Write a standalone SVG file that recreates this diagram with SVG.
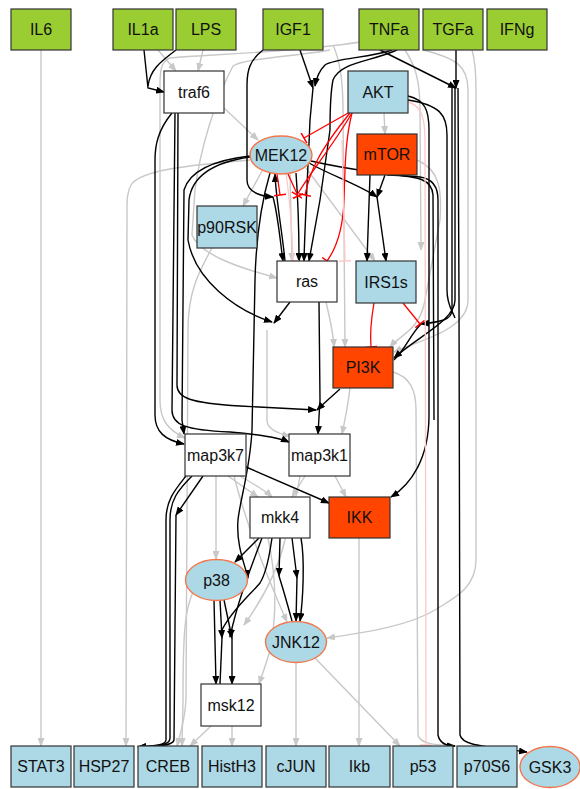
<svg xmlns="http://www.w3.org/2000/svg" width="580" height="789" viewBox="0 0 580 789">
<style>
.n rect,.n ellipse{stroke:#333;stroke-width:1.2}
.st{fill:#9ACD32}.bl{fill:#ADD8E6}.or{fill:#FF4500}.wh{fill:#fff}
.n ellipse{stroke:#F4764A;stroke-width:1.4}
.n text{font-family:"Liberation Sans",Arial,sans-serif;font-size:16px;text-anchor:middle;fill:#111}
.k{fill:none;stroke:#000;stroke-width:1.4;marker-end:url(#ak)}
.kj{fill:none;stroke:#000;stroke-width:1.4}
.g{fill:none;stroke:#C8C8C8;stroke-width:1.4;marker-end:url(#ag)}
.r{fill:none;stroke:#F00;stroke-width:1.3;marker-end:url(#tr)}
.p{fill:none;stroke:#FFC8C8;stroke-width:1.3;marker-end:url(#tp)}
</style>
<defs>
<marker id="ak" markerUnits="userSpaceOnUse" markerWidth="9" markerHeight="7" refX="8" refY="3.5" orient="auto"><path d="M0,0 L9,3.5 L0,7 z" fill="#000"/></marker>
<marker id="ag" markerUnits="userSpaceOnUse" markerWidth="9" markerHeight="7" refX="8" refY="3.5" orient="auto"><path d="M0,0 L9,3.5 L0,7 z" fill="#C8C8C8"/></marker>
<marker id="tr" markerUnits="userSpaceOnUse" markerWidth="3" markerHeight="12" refX="1.5" refY="6" orient="auto"><path d="M1.5,0 L1.5,12" stroke="#F00" stroke-width="1.5"/></marker>
<marker id="tp" markerUnits="userSpaceOnUse" markerWidth="3" markerHeight="12" refX="1.5" refY="6" orient="auto"><path d="M1.5,0 L1.5,12" stroke="#FFC8C8" stroke-width="1.5"/></marker>
</defs>
<rect width="580" height="789" fill="#fff"/>
<g id="edges">
<path class="g" d="M41,50 L41,746"/>
<path class="g" d="M158,50 L176,71"/>
<path class="g" d="M203,50 L198,71"/>
<path class="g" d="M224,108 L258,140"/>
<path class="g" d="M384,113 L385,134"/>
<path class="g" d="M262,171 L243,206"/>
<path class="g" d="M212,248 C200,270 188,290 188,330 L186,700 C185,720 180,735 177,746"/>
<path class="g" d="M250,160 C190,165 140,170 131,185 C127,192 127,200 127,212 L126,746"/>
<path class="g" d="M360,42 C300,52 200,55 170,58 C159,62 160,75 160,95 L160,400 C160,420 168,430 185,438"/>
<path class="g" d="M330,50 C300,56 245,58 233,66 C215,100 200,150 195,190 L192,235 C200,255 240,268 277,278"/>
<path class="g" d="M333,45 C340,60 343,80 343,110 L345,347"/>
<path class="g" d="M306,168 L375,261"/>
<path class="g" d="M417,160 C440,170 442,190 440,220 L425,300 C420,330 400,335 390,347"/>
<path class="g" d="M423,50 C455,58 468,65 468,90 L468,300 C468,330 420,340 394,352"/>
<path class="g" d="M405,50 C415,65 420,80 420,110 L421,250"/>
<path class="g" d="M472,50 C475,60 476,70 476,90 L476,560 C476,590 450,600 435,610 C410,625 370,632 327,638"/>
<path class="g" d="M393,372 C410,377 416,390 416,410 L418,735 C420,745 440,745 455,746"/>
<path class="g" d="M326,302 C330,320 333,330 334,347"/>
<path class="g" d="M350,388 C348,405 345,420 342,434"/>
<path class="g" d="M305,476 L292,497"/>
<path class="g" d="M335,476 L346,497"/>
<path class="g" d="M228,476 L258,497"/>
<path class="g" d="M240,476 C255,485 265,490 272,497"/>
<path class="g" d="M216,476 L216,559"/>
<path class="g" d="M234,476 C245,520 262,565 287,622"/>
<path class="g" d="M359,538 L359,746"/>
<path class="g" d="M296,663 L296,746"/>
<path class="g" d="M315,658 L400,746"/>
<path class="g" d="M232,726 L232,746"/>
<path class="g" d="M211,726 L190,746"/>
<path class="g" d="M193,592 C185,610 183,630 183,700 L182,746"/>
<path class="g" d="M268,538 C277,580 276,620 270,650 C266,665 262,675 259,684"/>
<path class="g" d="M290,173 L292,261"/>
<path class="g" d="M300,476 C296,500 290,520 285,540 C278,570 262,600 244,625"/>
<path class="g" d="M267,330 L267,420 C267,430 280,434 290,436"/>
<path class="k" d="M144,50 L148,88 L164,92"/>
<path class="kj" d="M176,50 C160,62 150,70 148,86"/>
<path class="k" d="M172,113 C158,130 155,145 155,160 L155,415 C155,432 165,440 184,444"/>
<path class="k" d="M250,156 C215,160 190,170 184,190 L182,420 L184,434"/>
<path class="k" d="M175,113 L172,410 C172,425 185,430 230,432 C265,435 280,438 289,442"/>
<path class="k" d="M178,113 L177,385 C177,398 190,403 240,406 L316,410"/>
<path class="k" d="M186,476 C175,490 166,500 166,520 L166,740 C166,745 155,746 138,747"/>
<path class="k" d="M192,476 C178,490 170,500 170,520 L170,738 C170,745 160,746 138,747"/>
<path class="k" d="M203,476 L176,515"/>
<path class="kj" d="M176,515 L174,740 C173,745 160,747 138,748"/>
<path class="k" d="M263,50 C250,60 247,70 247,85 L247,180 C247,192 260,196 273,197"/>
<path class="k" d="M273,197 C278,215 280,240 283,261"/>
<path class="k" d="M285,261 C282,230 276,200 275,174"/>
<path class="k" d="M300,50 L313,88"/>
<path class="k" d="M392,50 C370,58 335,58 325,65 C318,72 316,80 315,86"/>
<path class="k" d="M313,88 L310,120 C308,170 305,220 304,261"/>
<path class="k" d="M397,50 C370,62 340,62 333,80 C330,95 330,110 330,130 L320,200 L309,261"/>
<path class="k" d="M296,173 C298,200 299,230 299,261"/>
<path class="k" d="M309,163 C330,175 360,185 377,197"/>
<path class="k" d="M385,175 L377,197"/>
<path class="k" d="M377,197 L386,261"/>
<path class="k" d="M370,175 L367,261"/>
<path class="k" d="M311,161 C350,170 400,176 420,177 C435,179 438,190 438,200 L438,735 C440,745 450,746 455,746"/>
<path class="kj" d="M387,175 C420,176 432,180 433,195 L434,420"/>
<path class="k" d="M408,96 C425,100 429,110 429,130 L429,415 C429,460 410,485 391,497"/>
<path class="kj" d="M408,100 C440,105 447,115 447,135 L447,290 C447,305 452,310 455,318"/>
<path class="k" d="M380,50 L456,88"/>
<path class="k" d="M456,50 L456,88"/>
<path class="k" d="M458,88 L459,300 L460,735 C462,745 480,746 527,752"/>
<path class="k" d="M455,88 L455,300 C455,320 420,335 394,358"/>
<path class="k" d="M452,88 L452,310 C452,320 440,322 421,324"/>
<path class="kj" d="M421,324 C410,335 405,350 394,360"/>
<path class="k" d="M340,389 C330,398 322,405 317,410"/>
<path class="k" d="M319,302 L320,400 L318,434"/>
<path class="k" d="M250,157 C215,162 192,175 189,200 L188,240 C195,280 235,310 272,322"/>
<path class="k" d="M290,302 L274,323"/>
<path class="k" d="M246,467 L329,503"/>
<path class="k" d="M259,538 L235,562"/>
<path class="k" d="M280,538 L279,576"/>
<path class="kj" d="M279,576 C285,595 289,610 292,621"/>
<path class="k" d="M292,538 L297,578"/>
<path class="k" d="M297,578 L296,621"/>
<path class="k" d="M301,538 C305,560 303,600 300,621"/>
<path class="k" d="M270,173 C262,200 256,240 255,280 L252,430 C250,470 240,500 238,520 C236,545 245,565 248,578"/>
<path class="k" d="M262,538 C250,570 238,600 230,637"/>
<path class="k" d="M214,600 L216,684"/>
<path class="k" d="M220,600 L222,638"/>
<path class="k" d="M224,600 L232,638"/>
<path class="kj" d="M222,638 L220,684"/>
<path class="k" d="M232,638 L232,684"/>
<path class="kj" d="M222,630 C232,610 250,595 260,583 C268,570 270,550 272,538"/>
<path class="r" d="M350,112 L304,138"/>
<path class="r" d="M352,113 C345,140 345,170 344,200 C343,230 335,250 327,261"/>
<path class="r" d="M350,113 C320,150 310,170 305,195"/>
<path class="r" d="M352,113 C330,150 312,170 297,195"/>
<path class="r" d="M277,174 L280,195"/>
<path class="r" d="M288,174 L298,196"/>
<path class="r" d="M374,303 C371,320 370,335 371,347"/>
<path class="r" d="M403,303 L420,324"/>
<path class="p" d="M408,102 C420,105 425,115 425,140 L426,745"/>
<path class="p" d="M286,174 C290,200 292,230 293,261"/>
<path class="p" d="M342,140 L345,261"/>
</g>
<g id="IL6" class="n"><rect class="st" x="11" y="9" width="60" height="41"/><text x="41" y="35">IL6</text></g>
<g id="IL1a" class="n"><rect class="st" x="113" y="9" width="60" height="41"/><text x="143" y="35">IL1a</text></g>
<g id="LPS" class="n"><rect class="st" x="176" y="9" width="60" height="41"/><text x="206" y="35">LPS</text></g>
<g id="IGF1" class="n"><rect class="st" x="263" y="9" width="60" height="41"/><text x="293" y="35">IGF1</text></g>
<g id="TNFa" class="n"><rect class="st" x="359" y="9" width="60" height="41"/><text x="389" y="35">TNFa</text></g>
<g id="TGFa" class="n"><rect class="st" x="423" y="9" width="60" height="41"/><text x="453" y="35">TGFa</text></g>
<g id="IFNg" class="n"><rect class="st" x="487" y="9" width="60" height="41"/><text x="517" y="35">IFNg</text></g>
<g id="traf6" class="n"><rect class="wh" x="164" y="71" width="60" height="42"/><text x="194" y="98">traf6</text></g>
<g id="AKT" class="n"><rect class="bl" x="348" y="71" width="60" height="42"/><text x="378" y="98">AKT</text></g>
<g id="MEK12" class="n"><ellipse class="bl" cx="281" cy="155" rx="31" ry="19"/><text x="281" y="161">MEK12</text></g>
<g id="mTOR" class="n"><rect class="or" x="357" y="134" width="60" height="41"/><text x="387" y="160">mTOR</text></g>
<g id="p90RSK" class="n"><rect class="bl" x="197" y="206" width="60" height="42"/><text x="227" y="233">p90RSK</text></g>
<g id="ras" class="n"><rect class="wh" x="277" y="261" width="60" height="41"/><text x="307" y="287">ras</text></g>
<g id="IRS1s" class="n"><rect class="bl" x="356" y="261" width="60" height="42"/><text x="386" y="288">IRS1s</text></g>
<g id="PI3K" class="n"><rect class="or" x="333" y="347" width="60" height="41"/><text x="363" y="373">PI3K</text></g>
<g id="map3k7" class="n"><rect class="wh" x="185" y="434" width="61" height="42"/><text x="215.5" y="461">map3k7</text></g>
<g id="map3k1" class="n"><rect class="wh" x="289" y="434" width="61" height="42"/><text x="319.5" y="461">map3k1</text></g>
<g id="mkk4" class="n"><rect class="wh" x="250" y="497" width="60" height="41"/><text x="280" y="523">mkk4</text></g>
<g id="IKK" class="n"><rect class="or" x="329" y="497" width="61" height="41"/><text x="359.5" y="523">IKK</text></g>
<g id="p38" class="n"><ellipse class="bl" cx="216.5" cy="580" rx="31" ry="20.5"/><text x="216.5" y="586">p38</text></g>
<g id="JNK12" class="n"><ellipse class="bl" cx="296" cy="642" rx="30.5" ry="20.5"/><text x="296" y="648">JNK12</text></g>
<g id="msk12" class="n"><rect class="wh" x="201" y="684" width="60" height="42"/><text x="231" y="711">msk12</text></g>
<g id="STAT3" class="n"><rect class="bl" x="11" y="746" width="60" height="41"/><text x="41" y="772">STAT3</text></g>
<g id="HSP27" class="n"><rect class="bl" x="74" y="746" width="60" height="41"/><text x="104" y="772">HSP27</text></g>
<g id="CREB" class="n"><rect class="bl" x="138" y="746" width="60" height="41"/><text x="168" y="772">CREB</text></g>
<g id="HistH3" class="n"><rect class="bl" x="202" y="746" width="60" height="41"/><text x="232" y="772">HistH3</text></g>
<g id="cJUN" class="n"><rect class="bl" x="266" y="746" width="60" height="41"/><text x="296" y="772">cJUN</text></g>
<g id="Ikb" class="n"><rect class="bl" x="329" y="746" width="61" height="41"/><text x="359.5" y="772">Ikb</text></g>
<g id="p53" class="n"><rect class="bl" x="393" y="746" width="60" height="41"/><text x="423" y="772">p53</text></g>
<g id="p70S6" class="n"><rect class="bl" x="457" y="746" width="60" height="41"/><text x="487" y="772">p70S6</text></g>
<g id="GSK3" class="n"><ellipse class="bl" cx="550" cy="767" rx="30" ry="20.5"/><text x="550" y="773">GSK3</text></g>
</svg>
